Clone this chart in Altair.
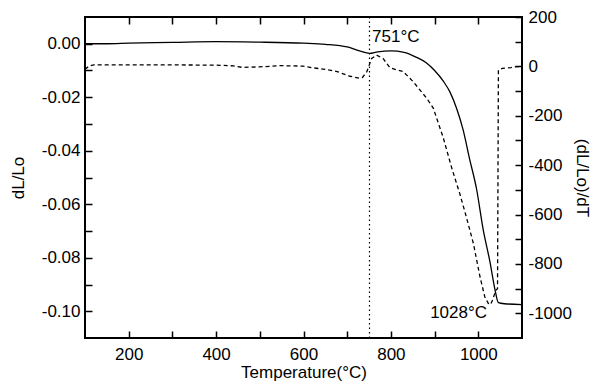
import altair as alt
import pandas as pd

# ---- data ----
temp_solid = [100, 150, 200, 300, 400, 500, 600, 650, 700, 730, 751, 770, 800, 830,
              860, 880, 900, 920, 935, 950, 965, 980, 996, 1011, 1027, 1038, 1046,
              1060, 1100]
dl_solid = [0.0000, 0.0000, 0.0002, 0.0005, 0.0008, 0.0006, 0.0002, -0.0002, -0.0012,
            -0.0028, -0.0036, -0.0030, -0.0027, -0.0032, -0.0052, -0.0070, -0.0100,
            -0.0140, -0.0180, -0.0240, -0.0320, -0.0430, -0.0543, -0.0693, -0.0818,
            -0.0918, -0.0968, -0.0972, -0.0975]

temp_dashed = [100, 110, 120, 200, 300, 400, 440, 460, 500, 546, 600, 622, 650, 677,
               706, 729, 735, 745, 756, 767, 782, 798, 828, 851, 882, 897, 920, 939,
               958, 973, 989, 1004, 1015, 1023, 1028, 1033, 1040, 1044, 1046, 1055,
               1075, 1088, 1100]
deriv_dashed = [-12, 2, 6, 6, 6, 5, 2, -4, -2, 3, 1, -6, -12, -21, -40, -48, -45, -21,
                32, 46, 32, -6, -21, -62, -129, -169, -290, -410, -518, -612, -719,
                -853, -934, -960, -965, -945, -907, -900, -15, -8, -5, -1, 0]

x_ticks = [200, 300, 400, 500, 600, 700, 800, 900, 1000]
left_ticks = [-0.10, -0.09, -0.08, -0.07, -0.06, -0.05, -0.04, -0.03, -0.02, -0.01, 0.0]
right_ticks = [-1000, -900, -800, -700, -600, -500, -400, -300, -200, -100, 0, 100, 200]
vline_T = [751]
ann_T = [757, 1020]
ann_v = [0.0026, -0.1005]
ann_text = ["751°C", "1028°C"]

FONT = "Liberation Sans"
FS = 17

solid_df = pd.DataFrame({"T": temp_solid, "v": dl_solid})
dashed_df = pd.DataFrame({"T": temp_dashed, "d": deriv_dashed})
vline_df = pd.DataFrame({"T": vline_T})
ann1_df = pd.DataFrame({"T": ann_T[:1], "v": ann_v[:1], "t": ann_text[:1]})
ann2_df = pd.DataFrame({"T": ann_T[1:], "v": ann_v[1:], "t": ann_text[1:]})

common = dict(domain=False, grid=False, tickColor="black", tickWidth=1.5,
              labelFont=FONT, titleFont=FONT, labelFontSize=FS, titleFontSize=FS,
              labelColor="black", titleColor="black", titleFontWeight="normal",
              labelOverlap=False, labelFlush=False, offset=-7, tickSize=7)

x_scale = alt.Scale(domain=[100, 1100], nice=False, zero=False)
x_axis_bottom = alt.Axis(values=x_ticks, orient="bottom", title="Temperature(°C)",
                         labelExpr="datum.value % 200 == 0 ? format(datum.value, 'd') : ''",
                         labelPadding=8, titlePadding=2, **common)
x_axis_top = alt.Axis(values=x_ticks, orient="top", title=None, labels=False, **common)

yl_scale = alt.Scale(domain=[-0.11, 0.01], nice=False, zero=False)
yl_axis = alt.Axis(values=left_ticks, orient="left", title="dL/Lo",
                   labelExpr="abs(round(datum.value*100)) % 2 == 0 ? replace(format(datum.value, '.2f'), '\u2212', '-') : ''",
                   labelPadding=5, titlePadding=14, **common)

yr_scale = alt.Scale(domain=[-1100, 200], nice=False, zero=False)
yr_axis = alt.Axis(values=right_ticks, orient="right", title="(dL/Lo)/dT",
                   labelExpr="datum.value % 200 == 0 ? replace(format(datum.value, 'd'), '\u2212', '-') : ''",
                   labelPadding=6, titlePadding=1, titleAngle=90, **common)

X = alt.X("T:Q", scale=x_scale, axis=x_axis_bottom)
YL = alt.Y("v:Q", scale=yl_scale, axis=yl_axis)

solid = alt.Chart(solid_df).mark_line(color="black", strokeWidth=1.3,
                                      interpolate="monotone").encode(x=X, y=YL)
vline = alt.Chart(vline_df).mark_rule(color="black", strokeWidth=1.2,
                                      strokeDash=[1.5, 3]).encode(x=X)
ann1 = alt.Chart(ann1_df).mark_text(align="left", baseline="middle", font=FONT,
                                    fontSize=FS, color="black").encode(x=X, y=YL, text="t:N")
ann2 = alt.Chart(ann2_df).mark_text(align="right", baseline="middle", font=FONT,
                                    fontSize=FS, color="black").encode(x=X, y=YL, text="t:N")

left_group = alt.layer(solid, vline, ann1, ann2)

dashed = alt.Chart(dashed_df).mark_line(color="black", strokeWidth=1.3,
                                        strokeDash=[4, 3]).encode(
    x=alt.X("T:Q", scale=x_scale, axis=x_axis_top),
    y=alt.Y("d:Q", scale=yr_scale, axis=yr_axis),
)
right_group = alt.layer(dashed)

chart = alt.layer(left_group, right_group).resolve_scale(
    y="independent"
).resolve_axis(
    x="independent", y="independent"
).properties(
    width=437, height=321,
    autosize=alt.AutoSizeParams(type="none"),
    padding={"left": 77, "top": 9, "right": 70, "bottom": 48},
    background="white",
).configure_view(stroke="black", strokeWidth=2)

chart.save("out.html", embed_options={"renderer": "svg", "actions": False})
